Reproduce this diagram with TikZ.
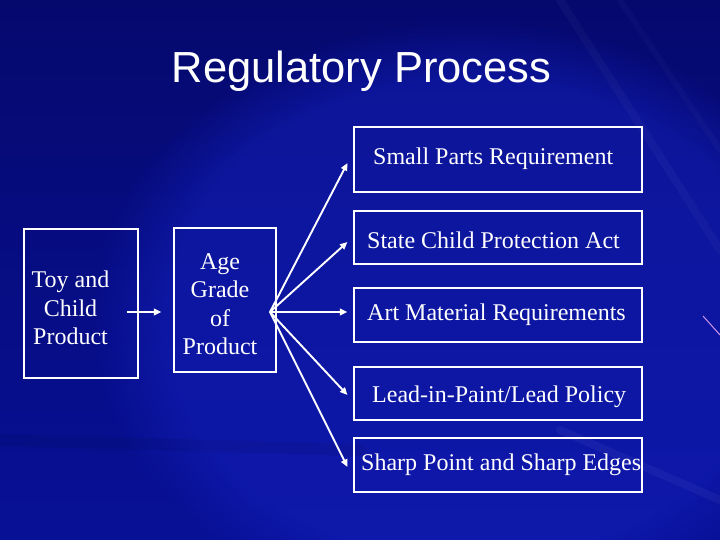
\documentclass[tikz,border=0pt]{standalone}
\usepackage{fontspec}
\setmainfont{Liberation Serif}
\newfontfamily\titlefont{Liberation Sans}
\usetikzlibrary{arrows.meta,fadings}
\definecolor{bgbase}{RGB}{8,16,150}
\definecolor{bgdark}{RGB}{5,9,110}
\definecolor{bglight}{RGB}{20,32,190}
\definecolor{pinkline}{RGB}{205,150,235}
\begin{document}
\begin{tikzpicture}[x=1pt,y=-1pt,
  bx/.style={draw=white, line width=1.1pt, inner sep=0pt},
  lbl/.style={text=white, font=\fontsize{24}{28.5}\selectfont, inner sep=0pt},
  arr/.style={draw=white, line width=1.9pt, -{Triangle[length=7.5pt,width=6.5pt]}}]
\useasboundingbox (0,0) rectangle (720,540);
% background
\shade[top color=bgdark, bottom color=bgbase] (0,0) rectangle (720,540);
\fill[bglight, opacity=0.5, path fading=circle with fuzzy edge 20 percent] (470,320) ellipse (380 and 300);
\begin{scope}[line cap=round]
\draw[white, opacity=0.03, line width=8pt] (560,0) -- (720,250);
\draw[white, opacity=0.025, line width=6pt] (620,0) -- (720,150);
\draw[white, opacity=0.04, line width=8pt] (560,430) -- (720,500);
\draw[black, opacity=0.06, line width=12pt] (0,440) -- (360,450);
\end{scope}
\draw[pinkline, line width=1pt] (703,316) -- (720,335);
% title
\node[text=white, font=\titlefont\fontsize{43.5}{50}\selectfont, anchor=base, inner sep=0pt] (title) at (361.5,83) {Regulatory Process};
% left boxes
\node[bx, minimum width=114pt, minimum height=149pt] (toy) at (81,303.5) {};
\node[lbl, align=center] (toyT) at (70.5,308) {Toy and\\Child\\Product};
\node[bx, minimum width=102pt, minimum height=144pt] (age) at (225,300) {};
\node[lbl, align=center] (ageT) at (220,304) {Age\\Grade\\of\\Product};
% right boxes
\node[bx, minimum width=288pt, minimum height=65pt] (sp) at (498,159.5) {};
\node[bx, minimum width=288pt, minimum height=53pt] (sc) at (498,237.5) {};
\node[bx, minimum width=288pt, minimum height=54pt] (am) at (498,315) {};
\node[bx, minimum width=288pt, minimum height=53pt] (lp) at (498,393.5) {};
\node[bx, minimum width=288pt, minimum height=54pt] (se) at (498,465) {};
\node[lbl, anchor=base west] (spT) at (373,165) {Small Parts Requirement};
\node[lbl, anchor=base west] (scT) at (367,248) {State Child Protection Act};
\node[lbl, anchor=base west] (amT) at (367,320) {Art Material Requirements};
\node[lbl, anchor=base west] (lpT) at (372,402) {Lead-in-Paint/Lead Policy};
\node[lbl, anchor=base west] (seT) at (361,470) {Sharp Point and Sharp Edges};
% connectors
\draw[arr] ([xshift=-12pt,yshift=-8.5pt]toy.east) -- ([xshift=-12pt,yshift=-12pt]age.west);
\coordinate (F) at (270,312);
\draw[arr] (F) -- ([xshift=-6pt,yshift=-3.5pt]sp.west);
\draw[arr] (F) -- ([xshift=-6pt,yshift=-4.5pt]sc.west);
\draw[arr] (F) -- ([xshift=-6pt,yshift=3pt]am.west);
\draw[arr] (F) -- ([xshift=-6pt,yshift=-1.5pt]lp.west);
\draw[arr] (F) -- ([xshift=-6pt,yshift=-2pt]se.west);
\end{tikzpicture}
\end{document}
